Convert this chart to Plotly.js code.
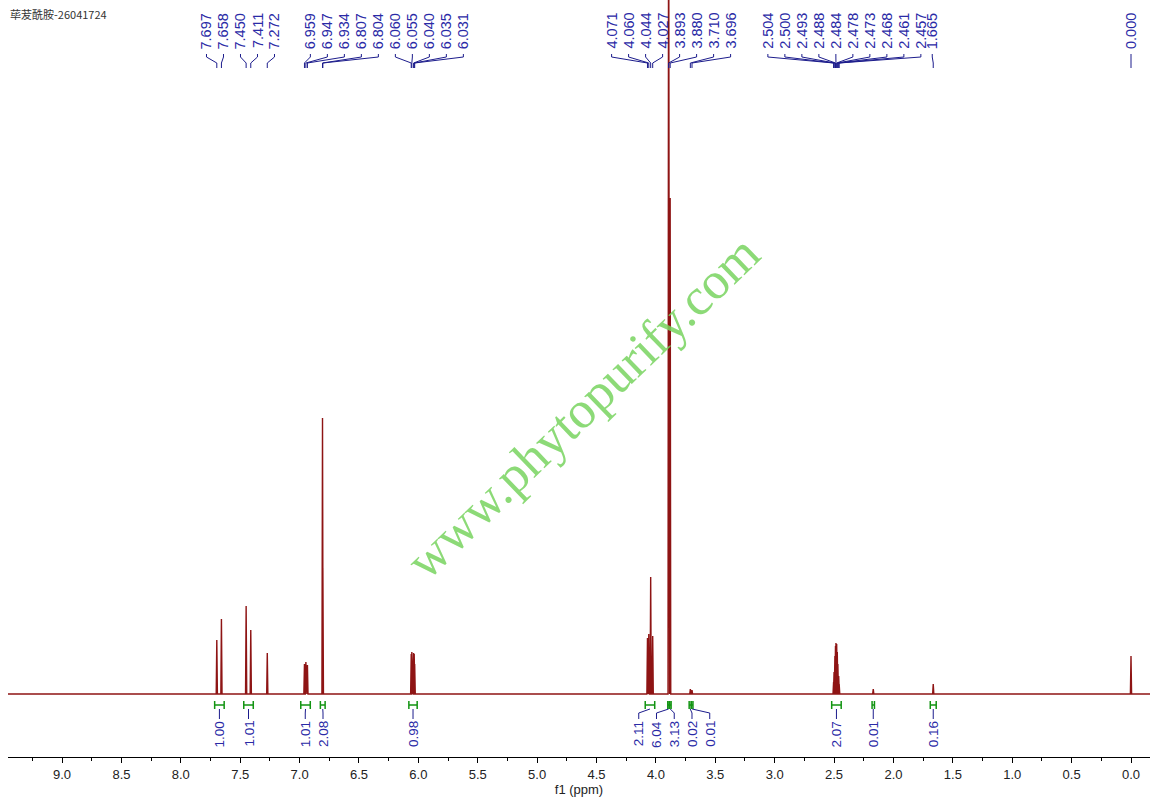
<!DOCTYPE html>
<html><head><meta charset="utf-8">
<script src="https://cdn.plot.ly/plotly-3.0.1.min.js"></script>
<style>html,body{margin:0;padding:0;background:#fff}#chart{width:1157px;height:805px}</style>
</head><body><div id="chart"></div>
<script>
// ---------------- data ----------------
const chartTitle = "荜茇酰胺-26041724";
const watermarkText = "www.phytopurify.com";
const axisTitle = "f1 (ppm)";

// picked peaks (ppm), their heights (arbitrary intensity) and multiplet label group
const peakPpm = [7.697, 7.658, 7.450, 7.411, 7.272,
  6.959, 6.947, 6.934, 6.807, 6.804, 6.060, 6.055, 6.040, 6.035, 6.031,
  4.071, 4.060, 4.044, 4.027, 3.893, 3.880, 3.710, 3.696,
  2.504, 2.500, 2.493, 2.488, 2.484, 2.478, 2.473, 2.468, 2.461, 2.457,
  1.665, 0.000];
const peakLabel = ["7.697","7.658","7.450","7.411","7.272",
  "6.959","6.947","6.934","6.807","6.804","6.060","6.055","6.040","6.035","6.031",
  "4.071","4.060","4.044","4.027","3.893","3.880","3.710","3.696",
  "2.504","2.500","2.493","2.488","2.484","2.478","2.473","2.468","2.461","2.457",
  "1.665","0.000"];
const peakHeight = [54, 75, 88, 64, 41,
  30, 32, 29, 276, 126, 40, 42, 41, 40, 30,
  56, 60, 117, 58, 900, 496, 5, 4,
  12, 22, 38, 48, 51, 50, 42, 30, 18, 10,
  10, 38];
const peakGroup = [1,1,1,1,1, 2,2,2,2,2,2,2,2,2,2, 3,3,3,3,3,3,3,3, 4,4,4,4,4,4,4,4,4,4, 5, 6];

// unlabelled small peaks
const extraPeakPpm = [2.170];
const extraPeakHeight = [5];

// integrals
const integralFrom  = [7.715, 7.470, 6.990, 6.825, 6.080, 4.090, 3.900, 3.886, 3.720, 3.702, 2.520, 2.180, 1.690];
const integralTo    = [7.635, 7.390, 6.910, 6.785, 6.010, 4.010, 3.886, 3.872, 3.702, 3.688, 2.440, 2.160, 1.640];
const integralValue = ["1.00","1.01","1.01","2.08","0.98","2.11","6.04","3.13","0.02","0.01","2.07","0.01","0.16"];

// ---------------- layout constants ----------------
const W = 1157, H = 805, ML = 8, MR = 7, MT = 0, MB = 48;
const xRange = [9.455, -0.16];
const yRange = [-63, 694];
const plotW = W - ML - MR, plotH = H - MT - MB;
const ppmPerPx = (xRange[0] - xRange[1]) / plotW;
const pyToPaper = py => 1 - (py - MT) / plotH;
const ppmToPx = p => ML + (xRange[0] - p) / ppmPerPx;
const pxToPpm = px => xRange[0] - (px - ML) * ppmPerPx;

const specColor = '#8e1414';
const labelBlue = '#2a2aa6';
const lineBlue = '#1c1c8c';
const integGreen = '#129412';
const labelFont = 'Liberation Sans, Arial, sans-serif';
const peakHalfWidth = 0.005;

// ---------------- spectrum trace ----------------
const allPeaks = peakPpm.map((p, i) => [p, peakHeight[i]])
  .concat(extraPeakPpm.map((p, i) => [p, extraPeakHeight[i]]))
  .sort((a, b) => b[0] - a[0]);
const sx = [xRange[0]], sy = [0];
allPeaks.forEach(([p, h]) => {
  sx.push(p + peakHalfWidth, p, p - peakHalfWidth);
  sy.push(0, h, 0);
});
sx.push(xRange[1]); sy.push(0);

const traces = [{
  x: sx, y: sy, type: 'scatter', mode: 'lines',
  line: {color: specColor, width: 1.4}, hoverinfo: 'skip', showlegend: false
}];

// ---------------- peak labels ----------------
const annotations = [];
const shapes = [];
const labelSpacingPx = 17;
const groupShiftPx = {1: 0, 2: 24, 3: 6, 4: 8, 5: -1, 6: 0};
const groups = [...new Set(peakGroup)];
groups.forEach(g => {
  const idx = peakPpm.map((p, i) => i).filter(i => peakGroup[i] === g)
    .sort((a, b) => peakPpm[b] - peakPpm[a]);
  const meanPx = idx.reduce((s, i) => s + ppmToPx(peakPpm[i]), 0) / idx.length + groupShiftPx[g];
  const n = idx.length;
  idx.forEach((i, k) => {
    const lx = meanPx + (k - (n - 1) / 2) * labelSpacingPx;
    const lppm = pxToPpm(lx);
    annotations.push({
      x: lppm, xref: 'x', y: pyToPaper(12), yref: 'paper',
      text: peakLabel[i], textangle: -90, showarrow: false,
      xanchor: 'center', yanchor: 'top',
      font: {family: labelFont, size: 14.5, color: labelBlue}, borderpad: 0
    });
    const p = peakPpm[i];
    shapes.push({
      type: 'path', xref: 'x', yref: 'paper',
      path: `M ${lppm},${pyToPaper(54)} L ${lppm},${pyToPaper(57)} L ${p},${pyToPaper(63)} L ${p},${pyToPaper(68)}`,
      line: {color: lineBlue, width: 1}
    });
  });
});

// ---------------- integrals ----------------
const bracketMid = 705, bracketTop = 701, bracketBot = 709;
const integItems = integralValue.map((v, i) => ({
  i, c: (integralFrom[i] + integralTo[i]) / 2, px: ppmToPx((integralFrom[i] + integralTo[i]) / 2)
})).sort((a, b) => a.px - b.px);
const integSp = 17.75;
let clusters = [];
integItems.forEach(it => {
  clusters.push({items: [it], start: it.px});
  while (clusters.length > 1) {
    const a = clusters[clusters.length - 2], b = clusters[clusters.length - 1];
    if (a.start + a.items.length * integSp > b.start) {
      const items = a.items.concat(b.items);
      const mean = items.reduce((s, t) => s + t.px, 0) / items.length;
      clusters.splice(clusters.length - 2, 2, {items, start: mean - (items.length - 1) / 2 * integSp});
    } else break;
  }
});
clusters.forEach(cl => {
  cl.items.forEach((it, k) => {
    const lx = cl.start + k * integSp;
    const lppm = pxToPpm(lx);
    const i = it.i;
    const a = integralFrom[i], b = integralTo[i];
    shapes.push({
      type: 'path', xref: 'x', yref: 'paper',
      path: `M ${a},${pyToPaper(bracketTop)} L ${a},${pyToPaper(bracketBot)} M ${a},${pyToPaper(bracketMid)} L ${b},${pyToPaper(bracketMid)} M ${b},${pyToPaper(bracketTop)} L ${b},${pyToPaper(bracketBot)}`,
      line: {color: integGreen, width: 1.5}
    });
    shapes.push({
      type: 'path', xref: 'x', yref: 'paper',
      path: `M ${it.c},${pyToPaper(bracketBot)} L ${lppm},${pyToPaper(713)} L ${lppm},${pyToPaper(719)}`,
      line: {color: lineBlue, width: 1}
    });
    annotations.push({
      x: lppm, xref: 'x', y: pyToPaper(720), yref: 'paper',
      text: integralValue[i], textangle: -90, showarrow: false,
      xanchor: 'center', yanchor: 'top',
      font: {family: labelFont, size: 13.5, color: labelBlue}, borderpad: 0
    });
  });
});

// ---------------- watermark ----------------
annotations.push({
  x: (582 - ML) / plotW, xref: 'paper', y: pyToPaper(407), yref: 'paper',
  text: watermarkText, textangle: -44, showarrow: false,
  xanchor: 'center', yanchor: 'middle',
  font: {family: 'Liberation Serif, Times New Roman, serif', size: 52, color: 'rgba(120,212,95,0.85)'}
});

const layout = {
  width: W, height: H,
  margin: {l: ML, r: MR, t: MT, b: MB, pad: 0},
  paper_bgcolor: '#fff', plot_bgcolor: '#fff',
  showlegend: false,
  title: {text: chartTitle, x: 10 / W, xanchor: 'left', xref: 'container',
          y: 1 - 15 / H, yanchor: 'middle', yref: 'container',
          font: {family: 'Noto Sans CJK SC, sans-serif', size: 11, color: '#333'}},
  xaxis: {
    range: xRange, autorange: false, showgrid: false, zeroline: false,
    showline: true, linecolor: '#000', linewidth: 1,
    ticks: 'outside', ticklen: 5, tickwidth: 1, tickcolor: '#000',
    tick0: 0, dtick: 0.5, tickformat: '.1f',
    tickfont: {family: labelFont, size: 13, color: '#222'},
    minor: {tick0: 0, dtick: 0.25, ticks: 'outside', ticklen: 3, tickcolor: '#000', showgrid: false},
    title: {text: axisTitle, standoff: 1, font: {family: labelFont, size: 13, color: '#222'}}
  },
  yaxis: {visible: false, range: yRange, autorange: false, showgrid: false, zeroline: false},
  annotations, shapes
};

Plotly.newPlot('chart', traces, layout, {displayModeBar: false, staticPlot: true});
</script></body></html>
